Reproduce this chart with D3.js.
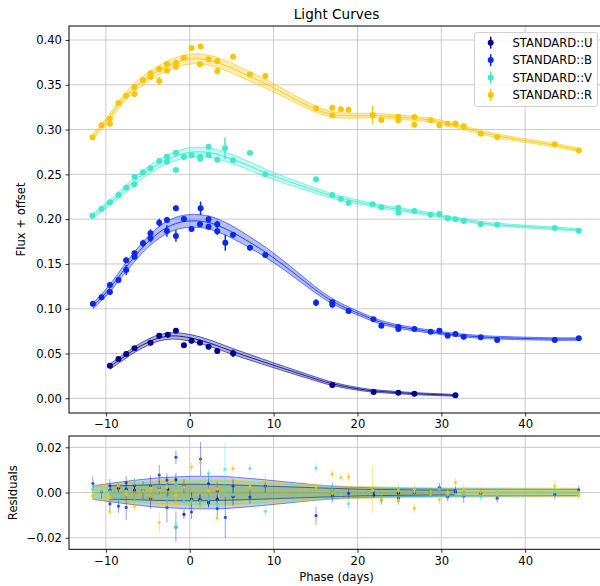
<!DOCTYPE html>
<html>
<head>
<meta charset="utf-8">
<script src="https://cdn.jsdelivr.net/npm/d3@7"></script>
<style>
  body { margin: 0; background: #fff; }
  text { font-family: "DejaVu Sans", sans-serif; fill: #000; }
</style>
</head>
<body>
<svg id="chart" width="600" height="586"></svg>
<script>
// ---- band names and colours ----
const bandNames = ["STANDARD::U", "STANDARD::B", "STANDARD::V", "STANDARD::R"];
const bandColors = ["#00008b", "#0a28f0", "#40e8cc", "#fbc400"];

// ---- U band ----
const uPhase = [-9.52,-8.5,-7.58,-6.59,-4.68,-3.64,-2.62,-1.65,-0.69,0.21,1.22,2.24,3.28,5.16,17.0,21.93,24.88,26.79,31.68];
const uFlux  = [0.0364,0.0439,0.0495,0.0558,0.0621,0.0699,0.0710,0.0755,0.0592,0.0643,0.0621,0.0576,0.0528,0.0502,0.0148,0.0070,0.0063,0.0051,0.0033];
const uErr   = [0.002,0.002,0.002,0.002,0.003,0.003,0.003,0.003,0.002,0.003,0.002,0.002,0.002,0.004,0.001,0.001,0.001,0.001,0.001];
const uResid = [0.0011,0.0019,0.0015,0.0011,-0.0022,0.0022,0.0015,0.0056,-0.0096,-0.003,-0.003,-0.0045,-0.003,-0.0018,-0.0007,-0.0011,0.0,0.0,0.0];

// ---- B band ----
const bPhase = [-11.55,-10.52,-9.52,-9.52,-8.5,-7.58,-7.58,-6.59,-6.59,-5.58,-4.68,-4.68,-3.64,-2.72,-2.72,-1.65,-1.65,-0.69,0.21,1.29,1.22,2.24,2.24,3.28,3.28,4.24,5.16,7.18,9.01,15.06,17.0,17.0,18.94,21.9,22.85,24.88,24.88,26.79,28.73,29.77,30.76,31.68,32.67,34.70,36.66,43.53,46.40];
const bFlux  = [0.1056,0.1127,0.1265,0.1187,0.1321,0.1541,0.1432,0.1619,0.1581,0.1730,0.1842,0.1786,0.1960,0.1990,0.1868,0.2121,0.1812,0.2002,0.1890,0.2121,0.1942,0.1998,0.1916,0.1942,0.1864,0.1737,0.1826,0.1681,0.1600,0.1067,0.1072,0.1045,0.0975,0.0882,0.0811,0.0796,0.0774,0.0774,0.0744,0.0755,0.0699,0.0718,0.0688,0.0681,0.0651,0.0651,0.0670];
const bErr   = [0.003,0.003,0.003,0.003,0.003,0.003,0.0056,0.003,0.003,0.004,0.0045,0.0045,0.0045,0.003,0.0065,0.003,0.0065,0.003,0.003,0.0075,0.003,0.004,0.003,0.004,0.004,0.009,0.003,0.003,0.003,0.004,0.003,0.003,0.002,0.002,0.002,0.002,0.002,0.002,0.002,0.002,0.002,0.002,0.003,0.002,0.002,0.002,0.002];
const bResid = [0.004,0.0004,0.003,-0.005,-0.006,0.0043,-0.0066,0.003,-0.0005,0.001,0.003,-0.0026,0.0077,0.0055,-0.0067,0.0156,-0.0153,0.003,-0.0086,0.0148,-0.0037,0.004,-0.0035,0.0007,-0.0071,-0.011,0.0029,-0.002,0.0029,-0.0102,0.0012,-0.0015,-0.0004,0.0,-0.0033,-0.0003,-0.0025,0.0004,0.0,0.0022,-0.0019,0.0008,-0.0015,-0.0003,-0.0025,-0.0008,0.0012];

// ---- V band ----
const vPhase = [-11.6,-10.52,-9.52,-8.5,-7.58,-6.59,-6.59,-5.58,-4.68,-3.64,-2.72,-2.72,-1.65,-1.65,-0.69,0.21,1.25,1.25,2.24,2.24,3.28,4.2,5.16,7.18,9.01,15.06,17.0,18.02,18.94,21.81,22.85,24.88,24.88,26.79,28.73,29.77,30.76,31.68,32.67,34.7,36.66,43.53,46.4];
const vFlux  = [0.2038,0.2117,0.2188,0.2270,0.2350,0.2474,0.2389,0.2523,0.2568,0.2649,0.2697,0.2641,0.2742,0.2549,0.2694,0.2713,0.2697,0.2675,0.2809,0.2716,0.2664,0.2791,0.2657,0.2738,0.2500,0.2445,0.2270,0.2225,0.2180,0.2166,0.2132,0.2128,0.2072,0.2091,0.2050,0.2057,0.2009,0.1998,0.1979,0.1942,0.1938,0.1901,0.1871];
const vErr   = [0.002,0.002,0.002,0.002,0.002,0.002,0.002,0.002,0.002,0.002,0.002,0.002,0.002,0.002,0.002,0.002,0.002,0.002,0.002,0.002,0.002,0.012,0.002,0.002,0.002,0.002,0.002,0.002,0.002,0.002,0.002,0.002,0.002,0.002,0.002,0.002,0.002,0.002,0.002,0.002,0.002,0.002,0.002];
const vResid = [0.0015,0.0007,0.0004,-0.0017,0.0006,0.0048,-0.0037,0.0022,0.0008,0.0026,0.0029,-0.0027,0.0037,-0.0153,-0.0041,-0.0037,-0.004,-0.006,0.0084,-0.003,-0.005,0.0103,-0.0011,0.0106,-0.0083,0.0108,0.0012,-0.0008,-0.005,0.0008,-0.0032,0.0018,-0.0038,0.0003,-0.0007,0.0015,-0.0009,-0.0007,-0.0011,-0.0019,0.0003,0.0003,-0.0008];

// ---- R band ----
const rPhase = [-11.6,-10.52,-9.52,-9.52,-8.5,-7.58,-6.59,-6.59,-5.58,-4.68,-4.68,-3.64,-3.64,-2.72,-2.72,-1.65,-1.65,-0.69,0.21,1.29,1.22,2.24,3.28,3.28,5.16,7.18,9.01,15.06,17.0,17.0,18.02,18.94,21.81,22.85,24.88,24.88,26.79,26.79,28.73,29.77,30.76,31.68,32.67,34.7,36.66,43.53,46.4];
const rFlux  = [0.2914,0.3048,0.3122,0.3066,0.3296,0.3378,0.3472,0.3397,0.3553,0.3628,0.3590,0.3676,0.3542,0.3732,0.3657,0.3740,0.3702,0.3802,0.3911,0.3926,0.3728,0.3784,0.3766,0.3654,0.3813,0.3617,0.3598,0.3237,0.3244,0.3159,0.3226,0.3222,0.3163,0.3106,0.3144,0.3104,0.3140,0.3055,0.3104,0.3047,0.3065,0.3069,0.3036,0.2954,0.2917,0.2835,0.2765];
const rErr   = [0.002,0.002,0.002,0.002,0.002,0.002,0.002,0.002,0.002,0.003,0.003,0.002,0.0045,0.003,0.002,0.004,0.004,0.002,0.002,0.002,0.002,0.002,0.003,0.002,0.002,0.002,0.003,0.002,0.002,0.002,0.002,0.002,0.010,0.002,0.002,0.002,0.002,0.002,0.002,0.002,0.002,0.002,0.002,0.002,0.002,0.002,0.002];
const rResid = [-0.0015,0.0023,-0.0022,-0.0085,0.0029,-0.0008,-0.0006,-0.0061,0.0008,0.0019,-0.0019,0.0011,-0.0133,0.0022,-0.0053,-0.0011,-0.0049,0.0025,0.0113,0.0131,-0.0063,0.0007,0.0015,-0.0113,0.0106,0.0027,0.0052,0.0025,0.0081,-0.0004,0.0066,0.0069,0.0011,-0.0032,0.0007,-0.0033,0.0014,-0.0069,0.0003,-0.0032,0.0,0.0044,0.0015,0.0003,-0.0008,0.0029,-0.001];

// ---- fitted model curves (knots) ----
const uModelPhase = [-9.52,-8.5,-7.58,-6.59,-4.68,-3.64,-2.62,-1.65,-0.69,0.21,1.22,2.24,3.28,5.16,9.9,12.5,15.06,17,20,21.93,24.88,26.79,31.68];
const uModelFlux  = [0.0353,0.0420,0.0480,0.0547,0.0643,0.0677,0.0695,0.0699,0.0688,0.0673,0.0651,0.0621,0.0587,0.0520,0.0372,0.0292,0.0215,0.0158,0.0104,0.0081,0.0063,0.0051,0.0033];
const bModelPhase = [-11.55,-10.52,-9.52,-8.5,-7.58,-6.59,-5.58,-4.68,-3.64,-2.72,-1.65,-0.69,0.21,1.29,2.24,3.28,4.24,5.16,7.18,9.01,12,15.06,17,18.94,21.9,22.85,24.88,26.79,28.73,30.76,32.67,34.7,36.66,43.53,46.4];
const bModelFlux  = [0.1030,0.1123,0.1228,0.1351,0.1470,0.1580,0.1690,0.1775,0.1855,0.1910,0.1955,0.1975,0.1983,0.1979,0.1965,0.1935,0.1893,0.1853,0.1741,0.1637,0.1432,0.1201,0.1079,0.0993,0.0878,0.0844,0.0799,0.0770,0.0744,0.0718,0.0699,0.0684,0.0676,0.0659,0.0662];
const vModelPhase = [-11.6,-10.52,-9.52,-8.5,-7.58,-6.59,-5.58,-4.68,-3.64,-2.72,-1.65,-0.69,0.21,1.25,2.24,3.28,4.2,5.16,7.18,9.01,12,15.06,17,18.02,18.94,21.81,22.85,24.88,26.79,28.73,29.77,30.76,31.68,32.67,34.7,36.66,43.53,46.4];
const vModelFlux  = [0.2038,0.2110,0.2184,0.2262,0.2344,0.2426,0.2501,0.2560,0.2623,0.2668,0.2705,0.2735,0.2750,0.2753,0.2746,0.2727,0.2697,0.2668,0.2593,0.2512,0.2415,0.2314,0.2258,0.2233,0.2214,0.2158,0.2139,0.2110,0.2083,0.2057,0.2040,0.2018,0.2005,0.1990,0.1958,0.1935,0.1898,0.1879];
const rModelPhase = [-11.6,-10.52,-9.52,-8.5,-7.58,-6.59,-5.58,-4.68,-3.64,-2.72,-1.65,-0.69,0.21,1.25,2.24,3.28,5.16,7.18,9.01,12,15.06,17,18.94,21.81,22.85,24.88,26.79,28.73,29.77,30.76,31.68,32.67,34.7,36.66,43.53,46.4];
const rModelFlux  = [0.2921,0.3025,0.3144,0.3274,0.3386,0.3478,0.3545,0.3609,0.3665,0.3710,0.3751,0.3777,0.3791,0.3791,0.3777,0.3751,0.3684,0.3590,0.3516,0.3367,0.3218,0.3163,0.3150,0.3160,0.3155,0.3137,0.3126,0.3107,0.3088,0.3066,0.3043,0.3021,0.2969,0.2925,0.2828,0.2772];

// ---- model 1-sigma widths ----
const sigmaPhase = [-11.6,-8,-4,0,4,8,12,16,20,30,47];
const uSigma = [0.003,0.003,0.0035,0.0037,0.0035,0.003,0.0025,0.002,0.0015,0.001,0.001];
const bSigma = [0.003,0.0048,0.0065,0.0072,0.0072,0.006,0.0045,0.003,0.0022,0.0016,0.0014];
const vSigma = [0.0025,0.0038,0.0048,0.0052,0.0052,0.0046,0.0036,0.0027,0.0021,0.0017,0.0015];
const rSigma = [0.003,0.0042,0.0052,0.0056,0.0056,0.005,0.004,0.0031,0.0026,0.0021,0.0019];

// ---- tick values ----
const xTicks = [-10, 0, 10, 20, 30, 40];
const fluxTicks = [0, 0.05, 0.10, 0.15, 0.20, 0.25, 0.30, 0.35, 0.40];
const residTicks = [-0.02, 0, 0.02];

// ---- assemble per-band records ----
const bands = [
  {phase: uPhase, flux: uFlux, err: uErr, resid: uResid, mp: uModelPhase, mf: uModelFlux, sig: uSigma},
  {phase: bPhase, flux: bFlux, err: bErr, resid: bResid, mp: bModelPhase, mf: bModelFlux, sig: bSigma},
  {phase: vPhase, flux: vFlux, err: vErr, resid: vResid, mp: vModelPhase, mf: vModelFlux, sig: vSigma},
  {phase: rPhase, flux: rFlux, err: rErr, resid: rResid, mp: rModelPhase, mf: rModelFlux, sig: rSigma}
].map((b, i) => ({
  ...b,
  name: bandNames[i],
  color: bandColors[i],
  obs: b.phase.map((p, j) => ({p, f: b.flux[j], e: b.err[j], r: b.resid[j]})),
  model: b.mp.map((p, j) => ({p, f: b.mf[j]})),
  sigma: d3.scaleLinear().domain(sigmaPhase).range(b.sig).clamp(true)
}));
// residual-panel fill strength per band
const residFillOpacity = [0.3, 0.24, 0.42, 0.32];

// ---- layout ----
const L = 69, R = 604;
const mainTop = 26, mainBottom = 413;
const resTop = 436, resBottom = 549.3;

const x = d3.scaleLinear().domain([-14.4, 49.4]).range([L, R]);
const y = d3.scaleLinear().domain([-0.0164, 0.4156]).range([mainBottom, mainTop]);
const yr = d3.scaleLinear().domain([-0.0251, 0.025]).range([resBottom, resTop]);

const svg = d3.select("#chart");
const defs = svg.append("defs");
defs.append("clipPath").attr("id", "clipMain").append("rect")
  .attr("x", L).attr("y", mainTop).attr("width", R - L).attr("height", mainBottom - mainTop);
defs.append("clipPath").attr("id", "clipRes").append("rect")
  .attr("x", L).attr("y", resTop).attr("width", R - L).attr("height", resBottom - resTop);

const gridColor = "#c4c4c4";
const fs = 11.6;

function drawGrid(yScale, yTicks, top, bottom) {
  const g = svg.append("g");
  g.selectAll(".vx").data(xTicks).join("line")
    .attr("x1", d => x(d)).attr("x2", d => x(d)).attr("y1", top).attr("y2", bottom)
    .attr("stroke", gridColor).attr("stroke-width", 0.9);
  g.selectAll(".hy").data(yTicks).join("line")
    .attr("x1", L).attr("x2", R).attr("y1", d => yScale(d)).attr("y2", d => yScale(d))
    .attr("stroke", gridColor).attr("stroke-width", 0.9);
}

function drawAxes(yScale, yTicks, yFmt, top, bottom) {
  const gx = svg.append("g").attr("transform", `translate(0,${bottom})`)
    .call(d3.axisBottom(x).tickValues(xTicks).tickFormat(d3.format("d")).tickSize(3.5).tickPadding(3.5).tickSizeOuter(0));
  const gy = svg.append("g").attr("transform", `translate(${L},0)`)
    .call(d3.axisLeft(yScale).tickValues(yTicks).tickFormat(yFmt).tickSize(3.5).tickPadding(3.5).tickSizeOuter(0));
  [gx, gy].forEach(g => {
    g.select(".domain").remove();
    g.selectAll("text").attr("font-size", fs).attr("font-family", "DejaVu Sans");
    g.selectAll("line").attr("stroke", "#000").attr("stroke-width", 0.8);
  });
  // frame
  svg.append("rect").attr("x", L).attr("y", top).attr("width", R - L).attr("height", bottom - top)
    .attr("fill", "none").attr("stroke", "#000").attr("stroke-width", 1);
}

// ===== main panel =====
drawGrid(y, fluxTicks, mainTop, mainBottom);
const main = svg.append("g").attr("clip-path", "url(#clipMain)");

bands.forEach(b => {
  const area = d3.area().curve(d3.curveBasis)
    .x(d => x(d.p)).y0(d => y(d.f - b.sigma(d.p))).y1(d => y(d.f + b.sigma(d.p)));
  main.append("path").datum(b.model).attr("d", area)
    .attr("fill", b.color).attr("fill-opacity", 0.3).attr("stroke", "none");
  [-1, 0, 1].forEach(k => {
    const line = d3.line().curve(d3.curveBasis)
      .x(d => x(d.p)).y(d => y(d.f + k * b.sigma(d.p)));
    main.append("path").datum(b.model).attr("d", line)
      .attr("fill", "none").attr("stroke", b.color)
      .attr("stroke-width", 1).attr("stroke-opacity", k === 0 ? 0.85 : 0.6);
  });
});

bands.forEach(b => {
  const g = main.append("g");
  g.selectAll("line").data(b.obs).join("line")
    .attr("x1", d => x(d.p)).attr("x2", d => x(d.p))
    .attr("y1", d => y(d.f - d.e)).attr("y2", d => y(d.f + d.e))
    .attr("stroke", b.color).attr("stroke-width", 1.5);
  g.selectAll("circle").data(b.obs).join("circle")
    .attr("cx", d => x(d.p)).attr("cy", d => y(d.f)).attr("r", 3)
    .attr("fill", b.color);
});

drawAxes(y, fluxTicks, d3.format(".2f"), mainTop, mainBottom);

// ===== residual panel =====
drawGrid(yr, residTicks, resTop, resBottom);
const res = svg.append("g").attr("clip-path", "url(#clipRes)");

bands.forEach((b, i) => {
  const area = d3.area().curve(d3.curveBasis)
    .x(d => x(d.p)).y0(d => yr(-b.sigma(d.p))).y1(d => yr(b.sigma(d.p)));
  res.append("path").datum(b.model).attr("d", area)
    .attr("fill", b.color).attr("fill-opacity", residFillOpacity[i]).attr("stroke", "none");
});
bands.forEach(b => {
  [-1, 0, 1].forEach(k => {
    const line = d3.line().curve(d3.curveBasis)
      .x(d => x(d.p)).y(d => yr(k * b.sigma(d.p)));
    res.append("path").datum(b.model).attr("d", line)
      .attr("fill", "none").attr("stroke", b.color)
      .attr("stroke-width", 1).attr("stroke-opacity", 0.55);
  });
});

bands.forEach(b => {
  const g = res.append("g");
  g.selectAll("line").data(b.obs).join("line")
    .attr("x1", d => x(d.p)).attr("x2", d => x(d.p))
    .attr("y1", d => yr(d.r - d.e)).attr("y2", d => yr(d.r + d.e))
    .attr("stroke", b.color).attr("stroke-width", 1).attr("stroke-opacity", 0.45);
  g.selectAll("circle").data(b.obs).join("circle")
    .attr("cx", d => x(d.p)).attr("cy", d => yr(d.r)).attr("r", 1.6)
    .attr("fill", b.color).attr("fill-opacity", 0.8);
});

drawAxes(yr, residTicks, d3.format(".2f"), resTop, resBottom);

// ===== texts =====
svg.append("text").attr("x", (L + R) / 2).attr("y", 18.5).attr("text-anchor", "middle")
  .attr("font-size", 13.6).text("Light Curves");
svg.append("text").attr("transform", `translate(25,${(mainTop + mainBottom) / 2}) rotate(-90)`)
  .attr("text-anchor", "middle").attr("font-size", fs).text("Flux + offset");
svg.append("text").attr("transform", `translate(17,${(resTop + resBottom) / 2}) rotate(-90)`)
  .attr("text-anchor", "middle").attr("font-size", fs).text("Residuals");
svg.append("text").attr("x", (L + R) / 2).attr("y", 581).attr("text-anchor", "middle")
  .attr("font-size", fs).text("Phase (days)");

// ===== legend =====
const lg = svg.append("g");
lg.append("rect").attr("x", 474.5).attr("y", 32.5).attr("width", 123).attr("height", 74)
  .attr("rx", 2.5).attr("fill", "#fff").attr("fill-opacity", 0.8)
  .attr("stroke", "#d0d0d0").attr("stroke-width", 1);
bands.forEach((b, i) => {
  const cy = 42.7 + i * 17.4;
  lg.append("line").attr("x1", 490.7).attr("x2", 490.7).attr("y1", cy - 6).attr("y2", cy + 6)
    .attr("stroke", b.color).attr("stroke-width", 1.5);
  lg.append("circle").attr("cx", 490.7).attr("cy", cy).attr("r", 3).attr("fill", b.color);
  lg.append("text").attr("x", 512.5).attr("y", cy + 4).attr("font-size", fs).text(b.name);
});
</script>
</body>
</html>
